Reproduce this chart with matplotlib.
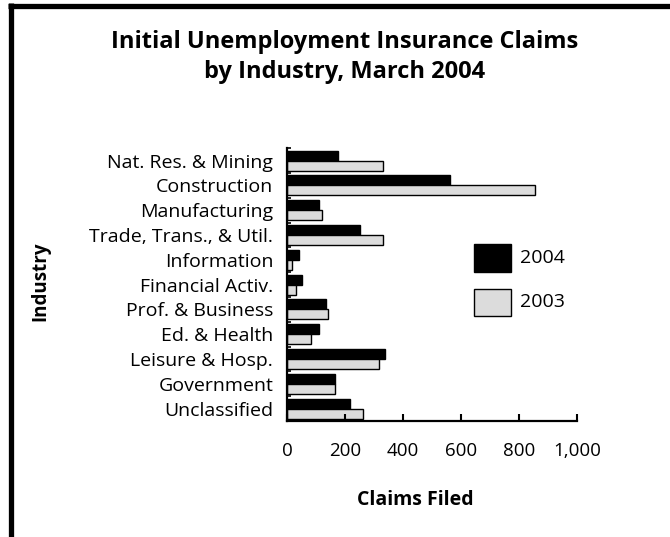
import numpy as np
import matplotlib
matplotlib.use("Agg")
import matplotlib.pyplot as plt
from matplotlib.patches import Rectangle
from matplotlib.lines import Line2D
from matplotlib.ticker import FuncFormatter

# Data
industries = ["Nat. Res. & Mining", "Construction", "Manufacturing", "Trade, Trans., & Util.",
              "Information", "Financial Activ.", "Prof. & Business", "Ed. & Health",
              "Leisure & Hosp.", "Government", "Unclassified"]
claims_2004 = [175, 563, 111, 251, 40, 53, 135, 111, 339, 164, 217]
claims_2003 = [332, 854, 119, 330, 17, 32, 143, 83, 317, 165, 262]
x_ticks = [0, 200, 400, 600, 800, 1000]

plt.rcParams["font.family"] = ["Open Sans", "DejaVu Sans"]

fig = plt.figure(figsize=(6.70, 5.37), dpi=100)
ax = fig.add_axes([0.4284, 0.216, 0.4326, 0.508])

y = np.arange(len(industries))
h = 0.4
ax.barh(y - h / 2, claims_2004, height=h, color="black", edgecolor="black", linewidth=1)
ax.barh(y + h / 2, claims_2003, height=h, color="#dcdcdc", edgecolor="black", linewidth=1)

ax.set_ylim(len(industries) - 0.5, -0.5)
ax.set_xlim(0, 1000)
ax.set_yticks(y)
ax.set_yticklabels(industries, fontsize=14)
ax.tick_params(axis="y", length=0, pad=10)
ax.set_yticks(np.arange(len(industries) + 1) - 0.5, minor=True)
ax.tick_params(axis="y", which="minor", direction="in", length=3, width=1.2)

ax.set_xticks(x_ticks)
ax.xaxis.set_major_formatter(FuncFormatter(lambda v, p: f"{int(v):,}"))
ax.tick_params(axis="x", direction="in", length=5, width=1.5, pad=15, labelsize=13.5)

for s in ["top", "right"]:
    ax.spines[s].set_visible(False)
for s in ["left", "bottom"]:
    ax.spines[s].set_linewidth(1.6)

fig.text(415 / 670, 1 - 500 / 537, "Claims Filed", fontsize=14, fontweight="bold",
         ha="center", va="center")
fig.text(40 / 670, 1 - 281 / 537, "Industry", rotation=90, fontsize=13.5, fontweight="bold",
         ha="center", va="center")

fig.text(345 / 670, 1 - 57 / 537, "Initial Unemployment Insurance Claims\nby Industry, March 2004",
         ha="center", va="center", fontsize=17, fontweight="bold", linespacing=1.3)

# legend drawn by hand
fig.patches.append(Rectangle((474 / 670, 1 - 272 / 537), 37 / 670, 28 / 537, transform=fig.transFigure,
                             facecolor="black", edgecolor="black", linewidth=1))
fig.patches.append(Rectangle((474 / 670, 1 - 316 / 537), 37 / 670, 27 / 537, transform=fig.transFigure,
                             facecolor="#dcdcdc", edgecolor="black", linewidth=1))
fig.text(520 / 670, 1 - 258 / 537, "2004", fontsize=14, va="center")
fig.text(520 / 670, 1 - 302 / 537, "2003", fontsize=14, va="center")

# frame: top and left border
fig.lines.append(Line2D([8 / 670, 1], [1 - 5.5 / 537, 1 - 5.5 / 537], transform=fig.transFigure,
                        color="black", linewidth=3.8, solid_capstyle="butt"))
fig.lines.append(Line2D([10.5 / 670, 10.5 / 670], [0, 1 - 3 / 537], transform=fig.transFigure,
                        color="black", linewidth=3.8, solid_capstyle="butt"))

fig.savefig("out.png", dpi=100)
